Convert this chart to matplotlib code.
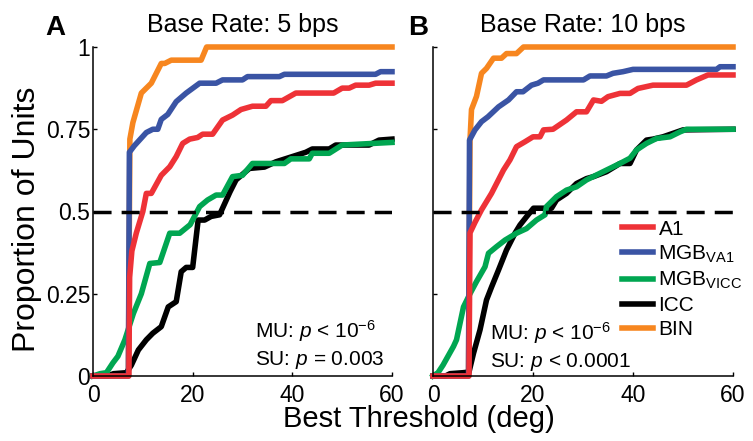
import numpy as np
import matplotlib
matplotlib.use("Agg")
import matplotlib.pyplot as plt

plt.rcParams['font.family'] = ['Liberation Sans', 'DejaVu Sans']
plt.rcParams['mathtext.fontset'] = 'custom'
plt.rcParams['mathtext.rm'] = 'Liberation Sans'
plt.rcParams['mathtext.it'] = 'Liberation Sans:italic'
plt.rcParams['mathtext.bf'] = 'Liberation Sans:bold'

# ---- panel A: base rate 5 bps ----
bin5_x = [0, 7.1, 7.4, 8.0, 9.7, 11.7, 13.7, 14.4, 15.7, 21.7, 22.8, 60]
bin5_y = [0, 0, 0.72, 0.77, 0.86, 0.89, 0.95, 0.95, 0.96, 0.96, 1.0, 1.0]

va1_5_x = [0, 7.1, 7.3, 8.3, 10.7, 12.0, 13.0, 13.7, 15.0, 16.7, 18.7, 21.4, 24.7, 26, 30, 31,
           37.4, 38.4, 56.7, 57.7, 60]
va1_5_y = [0, 0, 0.68, 0.70, 0.74, 0.75, 0.75, 0.78, 0.795, 0.834, 0.86, 0.89, 0.89, 0.90, 0.90,
           0.91, 0.91, 0.917, 0.917, 0.925, 0.925]

a1_5_x = [0, 7.2, 7.35, 7.8, 8.7, 10.0, 10.7, 11.7, 13.7, 15.4, 16.7, 18.0, 19.4, 21, 22, 24, 26,
          28, 29.7, 32, 34.7, 35.7, 38, 40.7, 48.3, 50, 51.4, 52.7, 55.4, 56.7, 60]
a1_5_y = [0, 0, 0.3, 0.38, 0.435, 0.5, 0.555, 0.555, 0.61, 0.636, 0.667, 0.707, 0.72, 0.725, 0.735,
          0.735, 0.778, 0.793, 0.81, 0.82, 0.82, 0.837, 0.837, 0.86, 0.86, 0.875, 0.875, 0.884,
          0.884, 0.89, 0.89]

icc5_x = [0, 3, 4.1, 6.7, 7.7, 9.1, 10.7, 12, 13.7, 15.1, 16.7, 17.7, 18.7, 20, 21.1, 22.4, 23.7,
          25.4, 27.5, 28.7, 31.4, 34.4, 36.7, 42.7, 44, 47.4, 48.7, 55.4, 57.4, 60]
icc5_y = [0, 0, 0.007, 0.01, 0.033, 0.079, 0.11, 0.13, 0.15, 0.21, 0.226, 0.317, 0.33, 0.33, 0.474,
          0.474, 0.485, 0.49, 0.56, 0.596, 0.631, 0.635, 0.651, 0.68, 0.69, 0.69, 0.702, 0.702,
          0.717, 0.72]

vicc5_x = [0, 1.4, 2.7, 4, 5, 6.4, 8.1, 9.7, 11.4, 13.4, 15.4, 17.4, 19.5, 21.4, 23, 24.7, 26, 28,
           30, 32, 38.4, 39.7, 43.4, 44, 47.4, 50, 60]
vicc5_y = [0, 0.007, 0.01, 0.04, 0.06, 0.11, 0.19, 0.25, 0.342, 0.345, 0.434, 0.434, 0.46, 0.515,
           0.535, 0.55, 0.55, 0.606, 0.61, 0.646, 0.646, 0.66, 0.66, 0.677, 0.677, 0.702, 0.71]

# ---- panel B: base rate 10 bps ----
bin10_x = [0, 7.1, 7.4, 7.7, 8.7, 9.7, 10.7, 12.1, 13.7, 14.7, 16.7, 18.1, 60]
bin10_y = [0, 0, 0.717, 0.81, 0.85, 0.92, 0.935, 0.966, 0.966, 0.98, 0.98, 1.0, 1.0]

va1_10_x = [0, 7.1, 7.3, 8.4, 9.7, 11, 13.1, 15.1, 16.7, 18, 19.7, 21, 22.1, 30.1, 31.4, 34.7, 36,
            38, 40, 56.7, 57.4, 60]
va1_10_y = [0, 0, 0.717, 0.748, 0.773, 0.788, 0.818, 0.839, 0.864, 0.864, 0.884, 0.89, 0.9, 0.9,
            0.912, 0.912, 0.92, 0.925, 0.932, 0.932, 0.94, 0.94]

a1_10_x = [0, 7.2, 7.4, 8.4, 9.7, 11.7, 14.1, 15.4, 16.7, 18.4, 20, 21.4, 22.1, 24, 26.7, 28.7,
           30.7, 32.1, 33.7, 35, 37.4, 39.4, 41, 44, 50.7, 52.7, 55, 60]
a1_10_y = [0, 0, 0.435, 0.467, 0.505, 0.555, 0.626, 0.657, 0.697, 0.712, 0.727, 0.727, 0.748, 0.75,
           0.778, 0.803, 0.803, 0.839, 0.835, 0.849, 0.859, 0.859, 0.874, 0.884, 0.884, 0.9,
           0.915, 0.915]

icc10_x = [0, 2.5, 3.4, 6, 7.2, 8.1, 9.4, 10.7, 11.7, 13.1, 14.7, 16.4, 17.4, 18.7, 20.1, 23.7,
           24.7, 26.7, 28.7, 30.7, 32.1, 34.7, 37.4, 39.4, 40.7, 42.7, 44, 46, 50, 60]
icc10_y = [0, 0, 0.007, 0.01, 0.012, 0.069, 0.14, 0.231, 0.27, 0.322, 0.383, 0.434, 0.459, 0.484,
           0.51, 0.51, 0.535, 0.555, 0.585, 0.6, 0.606, 0.621, 0.646, 0.646, 0.687, 0.717, 0.72,
           0.727, 0.748, 0.75]

vicc10_x = [0, 1, 2, 4.1, 4.7, 6.1, 7.4, 8.7, 10.4, 11.1, 12.7, 14.4, 16.7, 18.7, 20.7, 22.4, 22.7,
            24.7, 26.7, 28.7, 30.7, 32.7, 34.7, 37.4, 39.4, 40.7, 42.7, 44.7, 47.4, 49.4, 50.7, 60]
vicc10_y = [0, 0.01, 0.033, 0.09, 0.11, 0.21, 0.25, 0.287, 0.332, 0.373, 0.393, 0.413, 0.434, 0.448,
            0.474, 0.49, 0.515, 0.545, 0.565, 0.575, 0.596, 0.611, 0.626, 0.646, 0.662, 0.687,
            0.707, 0.722, 0.727, 0.742, 0.75, 0.75]

titles = ["Base Rate: 5 bps", "Base Rate: 10 bps"]
letters = ["A", "B"]
stats = [["MU: $p$ < 10$^{-6}$", "SU: $p$ = 0.003"],
         ["MU: $p$ < 10$^{-6}$", "SU: $p$ < 0.0001"]]
yticks = [0, 0.25, 0.5, 0.75, 1]
yticklabels = ["0", "0.25", "0.5", "0.75", "1"]
xticks = [0, 20, 40, 60]

c_a1 = '#EE3237'
c_va1 = '#3A54A4'
c_vicc = '#00A651'
c_icc = '#000000'
c_bin = '#F7861F'

panels = [
    dict(bin=(bin5_x, bin5_y), icc=(icc5_x, icc5_y), vicc=(vicc5_x, vicc5_y),
         va1=(va1_5_x, va1_5_y), a1=(a1_5_x, a1_5_y)),
    dict(bin=(bin10_x, bin10_y), icc=(icc10_x, icc10_y), vicc=(vicc10_x, vicc10_y),
         va1=(va1_10_x, va1_10_y), a1=(a1_10_x, a1_10_y)),
]

W, H = 753, 441
fig = plt.figure(figsize=(W/100, H/100), dpi=100)
ax_pos = [[93/W, 65/H, 299/W, 329/H], [433/W, 65/H, 300/W, 329/H]]
stat_pos = [(32.6, 0.115, 0.033), (11.4, 0.109, 0.027)]
lw = 4

for i, p in enumerate(panels):
    ax = fig.add_axes(ax_pos[i])
    h_bin, = ax.plot(*p['bin'], color=c_bin, lw=lw, clip_on=False, label='BIN')
    h_icc, = ax.plot(*p['icc'], color=c_icc, lw=lw, clip_on=False, label='ICC')
    h_vicc, = ax.plot(*p['vicc'], color=c_vicc, lw=lw, clip_on=False,
                      label=r'MGB$_{\mathregular{VICC}}$')
    h_va1, = ax.plot(*p['va1'], color=c_va1, lw=lw, clip_on=False,
                     label=r'MGB$_{\mathregular{VA1}}$')
    h_a1, = ax.plot(*p['a1'], color=c_a1, lw=lw, clip_on=False, label='A1')
    ax.axhline(0.5, color='black', lw=2.5, dashes=(5.2, 2.9), zorder=5)

    ax.set_xlim(0, 60)
    ax.set_ylim(0, 1)
    ax.spines['top'].set_visible(False)
    ax.spines['right'].set_visible(False)
    for s in ['left', 'bottom']:
        ax.spines[s].set_linewidth(1.1)
    ax.set_xticks(xticks)
    ax.set_yticks(yticks)
    if i == 0:
        ax.set_yticklabels(yticklabels)
    else:
        ax.set_yticklabels([])
    ax.tick_params(direction='in', length=3, width=1, labelsize=16.5)
    ax.tick_params(axis='x', pad=6)
    ax.tick_params(axis='y', pad=2)
    ax.set_title(titles[i], fontsize=18, pad=11)

    sx, sy1, sy2 = stat_pos[i]
    ax.text(sx, sy1, stats[i][0], fontsize=15, va='baseline', ha='left')
    ax.text(sx, sy2, stats[i][1], fontsize=15, va='baseline', ha='left')

    if i == 1:
        ax.legend(handles=[h_a1, h_va1, h_vicc, h_icc, h_bin], loc='upper left',
                  bbox_to_anchor=(0.63, 0.475), frameon=False, fontsize=15,
                  handlelength=1.5, handletextpad=0.25, labelspacing=0.24,
                  borderpad=0, borderaxespad=0)

fig.text(45/W, 1 - 35/H, letters[0], fontsize=20, fontweight='bold', va='baseline')
fig.text(408/W, 1 - 35/H, letters[1], fontsize=20, fontweight='bold', va='baseline')
fig.text(27/W, 1 - 219/H, "Proportion of Units", fontsize=23, rotation=90,
         ha='center', va='center')
fig.text(419/W, 1 - 419/H, "Best Threshold (deg)", fontsize=21, ha='center', va='center')

fig.savefig("out.png", dpi=100)
